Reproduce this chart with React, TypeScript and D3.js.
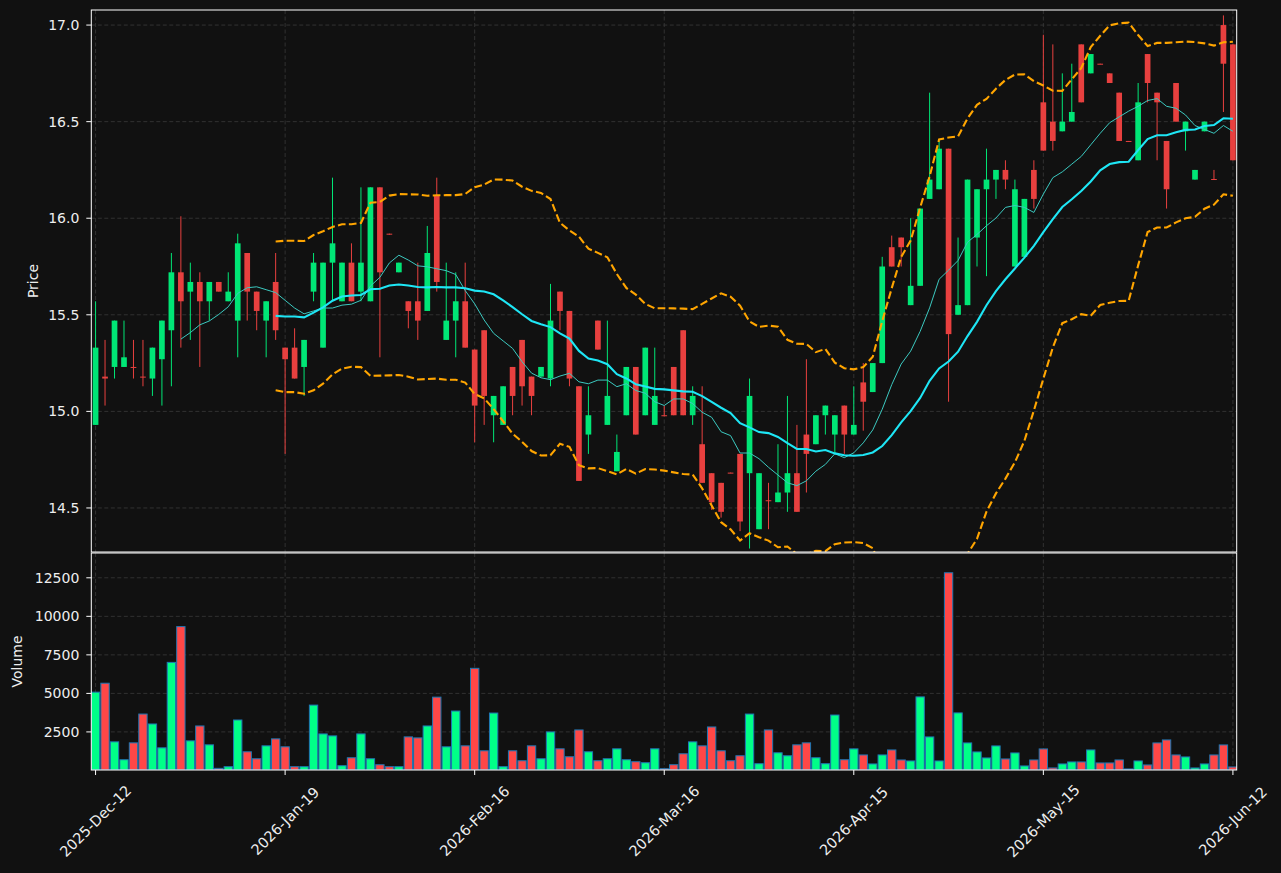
import React from 'react';
import * as d3 from 'd3';

// OHLCV, one entry per trading session (index 0 = 2025-Dec-12)
const OPEN = [
  14.93, 15.18, 15.23, 15.23, 15.23, 15.18, 15.17, 15.27, 15.42, 15.72,
  15.62, 15.67, 15.57, 15.67, 15.57, 15.47, 15.82, 15.62, 15.47, 15.67,
  15.33, 15.33, 15.23, 15.62, 15.33, 15.77, 15.57, 15.77, 15.62, 15.57,
  16.16, 15.92, 15.72, 15.57, 15.57, 15.52, 16.12, 15.37, 15.47, 15.57,
  15.32, 15.42, 14.98, 14.93, 15.23, 15.37, 15.18, 15.18, 15.17, 15.62,
  15.52, 15.13, 14.88, 15.47, 14.93, 14.69, 14.98, 15.23, 14.98, 14.93,
  14.98, 15.23, 15.42, 14.98, 14.83, 14.68, 14.63, 14.683, 14.78, 14.68,
  14.39, 14.54, 14.53, 14.58, 14.68, 14.88, 14.83, 14.98, 14.88, 15.03,
  14.88, 15.15, 15.1, 15.25, 15.85, 15.9, 15.55, 15.65, 16.1, 16.15,
  16.36, 15.5, 15.55, 15.9, 16.15, 16.2, 16.25, 15.75, 15.8, 16.25,
  16.6, 16.5, 16.45, 16.5, 16.9, 16.75, 16.8, 16.75, 16.65, 16.4,
  16.3, 16.85, 16.65, 16.4, 16.7, 16.45, 16.2, 16.45, 16.203, 17.0,
  16.9,
];
const HIGH = [
  15.57, 15.37, 15.47, 15.47, 15.37, 15.37, 15.33, 15.47, 15.82, 16.01,
  15.77, 15.72, 15.67, 15.67, 15.72, 15.92, 15.82, 15.62, 15.57, 15.82,
  15.33, 15.43, 15.37, 15.82, 15.77, 16.21, 15.77, 15.87, 16.16, 16.16,
  16.16, 15.92, 15.77, 15.57, 15.77, 15.96, 16.21, 15.77, 15.72, 15.77,
  15.32, 15.42, 15.08, 15.13, 15.23, 15.37, 15.18, 15.23, 15.66, 15.62,
  15.52, 15.13, 15.13, 15.47, 15.47, 14.88, 15.23, 15.23, 15.33, 15.33,
  15.03, 15.23, 15.42, 15.13, 15.13, 14.68, 14.63, 14.683, 14.78, 15.17,
  14.68, 14.63, 14.83, 15.08, 14.93, 15.27, 14.98, 15.03, 14.98, 15.03,
  15.13, 15.25, 15.25, 15.8, 15.91, 15.9, 16.0, 16.05, 16.65, 16.4,
  16.36, 15.9, 16.2, 16.15, 16.36, 16.25, 16.3, 16.2, 16.1, 16.3,
  16.95, 16.9, 16.75, 16.8, 16.9, 16.85, 16.8, 16.75, 16.65, 16.4,
  16.7, 16.85, 16.65, 16.4, 16.7, 16.5, 16.25, 16.5, 16.25, 17.05,
  16.9,
];
const LOW = [
  14.93, 15.03, 15.17, 15.23, 15.17, 15.13, 15.08, 15.03, 15.13, 15.33,
  15.37, 15.23, 15.47, 15.62, 15.57, 15.28, 15.47, 15.42, 15.28, 15.37,
  14.78, 15.17, 15.08, 15.57, 15.33, 15.57, 15.57, 15.57, 15.57, 15.57,
  15.28, 15.915, 15.72, 15.43, 15.37, 15.52, 15.62, 15.37, 15.28, 15.33,
  14.84, 14.93, 14.84, 14.93, 14.98, 15.03, 14.98, 15.18, 15.13, 15.42,
  15.13, 14.64, 14.78, 15.32, 14.93, 14.69, 14.98, 14.88, 14.98, 14.93,
  14.975, 14.98, 14.98, 14.93, 14.63, 14.49, 14.45, 14.68, 14.38, 14.29,
  14.39, 14.39, 14.53, 14.48, 14.48, 14.58, 14.83, 14.88, 14.78, 14.78,
  14.88, 14.9, 15.1, 15.25, 15.75, 15.75, 15.55, 15.65, 16.1, 16.15,
  15.05, 15.5, 15.55, 15.75, 15.7, 16.1, 16.15, 15.75, 15.8, 16.05,
  16.35, 16.35, 16.45, 16.5, 16.6, 16.75, 16.797, 16.7, 16.4, 16.397,
  16.3, 16.6, 16.3, 16.05, 16.5, 16.35, 16.2, 16.45, 16.2, 16.55,
  16.3,
];
const CLOSE = [
  15.33, 15.17, 15.47, 15.28, 15.225, 15.175, 15.33, 15.47, 15.72, 15.57,
  15.67, 15.57, 15.67, 15.62, 15.62, 15.87, 15.62, 15.52, 15.57, 15.42,
  15.27, 15.17, 15.37, 15.77, 15.77, 15.87, 15.77, 15.57, 15.77, 16.16,
  15.72, 15.915, 15.77, 15.52, 15.47, 15.82, 15.67, 15.47, 15.57, 15.33,
  15.03, 15.08, 15.08, 15.13, 15.08, 15.13, 15.08, 15.23, 15.47, 15.52,
  15.17, 14.64, 14.98, 15.32, 15.08, 14.79, 15.23, 14.88, 15.33, 15.08,
  14.975, 14.98, 14.98, 15.08, 14.63, 14.53, 14.48, 14.68, 14.43, 15.08,
  14.68, 14.535, 14.58, 14.68, 14.48, 14.78, 14.98, 15.03, 14.98, 14.88,
  14.93, 15.05, 15.25, 15.75, 15.75, 15.85, 15.65, 16.05, 16.2, 16.36,
  15.4, 15.55, 16.2, 16.15, 16.2, 16.25, 16.2, 16.15, 16.1, 16.1,
  16.35, 16.4, 16.5, 16.55, 16.6, 16.85, 16.797, 16.7, 16.4, 16.397,
  16.6, 16.7, 16.6, 16.15, 16.5, 16.5, 16.25, 16.5, 16.2, 16.8,
  16.3,
];
const VOLUME = [
  5080, 5660, 1855, 695, 1790, 3660, 3016, 1468, 7013, 9334,
  1920, 2887, 1662, 136, 244, 3274, 1211, 759, 1597, 2049,
  1533, 244, 244, 4241, 2371, 2242, 308, 824, 2371, 759,
  372, 244, 244, 2178, 2113, 2887, 4757, 1533, 3854, 1597,
  6626, 1275, 3725, 244, 1275, 630, 1597, 759, 2500, 1404,
  888, 2629, 1211, 630, 759, 1404, 695, 566, 501, 1404,
  114, 372, 1082, 1855, 1597, 2822, 1275, 630, 953, 3660,
  437, 2629, 1146, 953, 1662, 1791, 824, 437, 3596, 695,
  1400, 1006, 422, 1006, 1331, 681, 616, 4773, 2175, 616,
  12827, 3734, 1786, 1201, 811, 1591, 746, 1136, 292, 681,
  1396, 162, 422, 552, 552, 1331, 487, 487, 681, 97,
  616, 357, 1786, 1980, 1006, 876, 162, 422, 1006, 1656,
  227,
];

const TICK_INDEX = [0, 20, 40, 60, 80, 100, 120];
const TICK_LABELS = ['2025-Dec-12', '2026-Jan-19', '2026-Feb-16', '2026-Mar-16', '2026-Apr-15', '2026-May-15', '2026-Jun-12'];
const PRICE_TICKS = [14.5, 15.0, 15.5, 16.0, 16.5, 17.0];
const VOLUME_TICKS = [2500, 5000, 7500, 10000, 12500];

const W = 1281;
const H = 873;
const LEFT = 91.3;
const RIGHT = 1236.7;
const P_TOP = 10;
const P_BOT = 552;
const V_TOP = 553;
const V_BOT = 770;

const BG = '#111111';
const UP = '#00e676';
const DOWN = '#e8403f';
const VOL_UP = '#00ff88';
const VOL_DOWN = '#ff4747';
const GRID = '#3a3a3a';
const TEXT = '#eeeeee';
const FONT = 'DejaVu Sans, sans-serif';

function rolling(values: number[], n: number, fn: (w: number[]) => number): (number | null)[] {
  return values.map((_, i) => (i < n - 1 ? null : fn(values.slice(i - n + 1, i + 1))));
}

export default function App() {
  const n = CLOSE.length;
  const x = d3.scaleLinear().domain([-0.45, n - 1 + 0.4]).range([LEFT, RIGHT]);
  const step = x(1) - x(0);
  const yP = d3.scaleLinear().domain([14.272, 17.078]).range([P_BOT, P_TOP]);
  const yV = d3.scaleLinear()
    .domain([0.3 * (d3.min(VOLUME) as number), 1.1 * (d3.max(VOLUME) as number)])
    .range([V_BOT, V_TOP]);

  // moving averages and 20-day bollinger bands, from the closes
  const ma10 = rolling(CLOSE, 10, (w) => d3.mean(w) as number);
  const ma20 = rolling(CLOSE, 20, (w) => d3.mean(w) as number);
  const sd20 = rolling(CLOSE, 20, (w) => d3.deviation(w) as number);
  const upper = ma20.map((m, i) => (m == null ? null : m + 2 * (sd20[i] as number)));
  const lower = ma20.map((m, i) => (m == null ? null : m - 2 * (sd20[i] as number)));

  const line = d3.line<number | null>()
    .defined((d) => d != null)
    .x((_d, i) => x(i))
    .y((d) => yP(d as number));

  const bodyW = step * 0.6;
  const volW = step * 0.88;

  return (
    <svg width={W} height={H} style={{ position: 'absolute', left: 0, top: 0, background: BG }} fontFamily={FONT}>
      <rect x={0} y={0} width={W} height={H} fill={BG} />
      <defs>
        <clipPath id="clipP"><rect x={LEFT} y={P_TOP} width={RIGHT - LEFT} height={P_BOT - P_TOP} /></clipPath>
        <clipPath id="clipV"><rect x={LEFT} y={V_TOP} width={RIGHT - LEFT} height={V_BOT - V_TOP} /></clipPath>
      </defs>

      {/* grid */}
      <g stroke={GRID} strokeWidth={0.8} strokeDasharray="4,2.5">
        {TICK_INDEX.map((t) => (
          <g key={'gx' + t}>
            <line x1={x(t)} x2={x(t)} y1={P_TOP} y2={P_BOT} />
            <line x1={x(t)} x2={x(t)} y1={V_TOP} y2={V_BOT} />
          </g>
        ))}
        {PRICE_TICKS.map((t) => <line key={'gp' + t} x1={LEFT} x2={RIGHT} y1={yP(t)} y2={yP(t)} />)}
        {VOLUME_TICKS.map((t) => <line key={'gv' + t} x1={LEFT} x2={RIGHT} y1={yV(t)} y2={yV(t)} />)}
      </g>

      {/* price panel */}
      <g clipPath="url(#clipP)">
        {OPEN.map((o, i) => {
          const c = CLOSE[i];
          const col = c >= o ? UP : DOWN;
          const top = yP(Math.max(o, c));
          const bot = yP(Math.min(o, c));
          return (
            <g key={'c' + i}>
              <line x1={x(i)} x2={x(i)} y1={yP(HIGH[i])} y2={yP(LOW[i])} stroke={col} strokeWidth={1} />
              <rect x={x(i) - bodyW / 2} y={top} width={bodyW} height={Math.max(bot - top, 1)} fill={col} />
            </g>
          );
        })}
        <path d={line(upper) || ''} fill="none" stroke="#ffa500" strokeWidth={2.1} strokeDasharray="7.7,3.3" />
        <path d={line(lower) || ''} fill="none" stroke="#ffa500" strokeWidth={2.1} strokeDasharray="7.7,3.3" />
        <path d={line(ma10) || ''} fill="none" stroke="#3cc9c0" strokeWidth={1} />
        <path d={line(ma20) || ''} fill="none" stroke="#1ee6f5" strokeWidth={2.1} />
      </g>

      {/* volume panel */}
      <g clipPath="url(#clipV)">
        {VOLUME.map((v, i) => (
          <rect
            key={'v' + i}
            x={x(i) - volW / 2}
            y={yV(v)}
            width={volW}
            height={V_BOT - yV(v)}
            fill={CLOSE[i] >= OPEN[i] ? VOL_UP : VOL_DOWN}
            stroke="#1f77b4"
            strokeWidth={1}
          />
        ))}
      </g>

      {/* frames */}
      <rect x={LEFT} y={P_TOP} width={RIGHT - LEFT} height={P_BOT - P_TOP} fill="none" stroke="#ffffff" strokeWidth={1} />
      <rect x={LEFT} y={V_TOP} width={RIGHT - LEFT} height={V_BOT - V_TOP} fill="none" stroke="#ffffff" strokeWidth={1} />

      {/* y axes */}
      {PRICE_TICKS.map((t) => (
        <g key={'tp' + t}>
          <line x1={LEFT - 5} x2={LEFT} y1={yP(t)} y2={yP(t)} stroke="#ffffff" strokeWidth={1} />
          <text x={LEFT - 12} y={yP(t)} dy="0.35em" textAnchor="end" fontSize={14} fill={TEXT}>{d3.format('.1f')(t)}</text>
        </g>
      ))}
      {VOLUME_TICKS.map((t) => (
        <g key={'tv' + t}>
          <line x1={LEFT - 5} x2={LEFT} y1={yV(t)} y2={yV(t)} stroke="#ffffff" strokeWidth={1} />
          <text x={LEFT - 12} y={yV(t)} dy="0.35em" textAnchor="end" fontSize={14} fill={TEXT}>{t}</text>
        </g>
      ))}
      <text transform={`translate(33,${(P_TOP + P_BOT) / 2}) rotate(-90)`} textAnchor="middle" dy="0.35em" fontSize={14} fill={TEXT}>Price</text>
      <text transform={`translate(17,${(V_TOP + V_BOT) / 2}) rotate(-90)`} textAnchor="middle" dy="0.35em" fontSize={14} fill={TEXT}>Volume</text>

      {/* x axis */}
      {TICK_INDEX.map((t, k) => (
        <g key={'tx' + t}>
          <line x1={x(t)} x2={x(t)} y1={V_BOT} y2={V_BOT + 5} stroke="#ffffff" strokeWidth={1} />
          <text
            transform={`translate(${x(t)},821) rotate(-45)`}
            textAnchor="middle"
            dy="0.35em"
            fontSize={14.5}
            fill={TEXT}
          >
            {TICK_LABELS[k]}
          </text>
        </g>
      ))}
    </svg>
  );
}
